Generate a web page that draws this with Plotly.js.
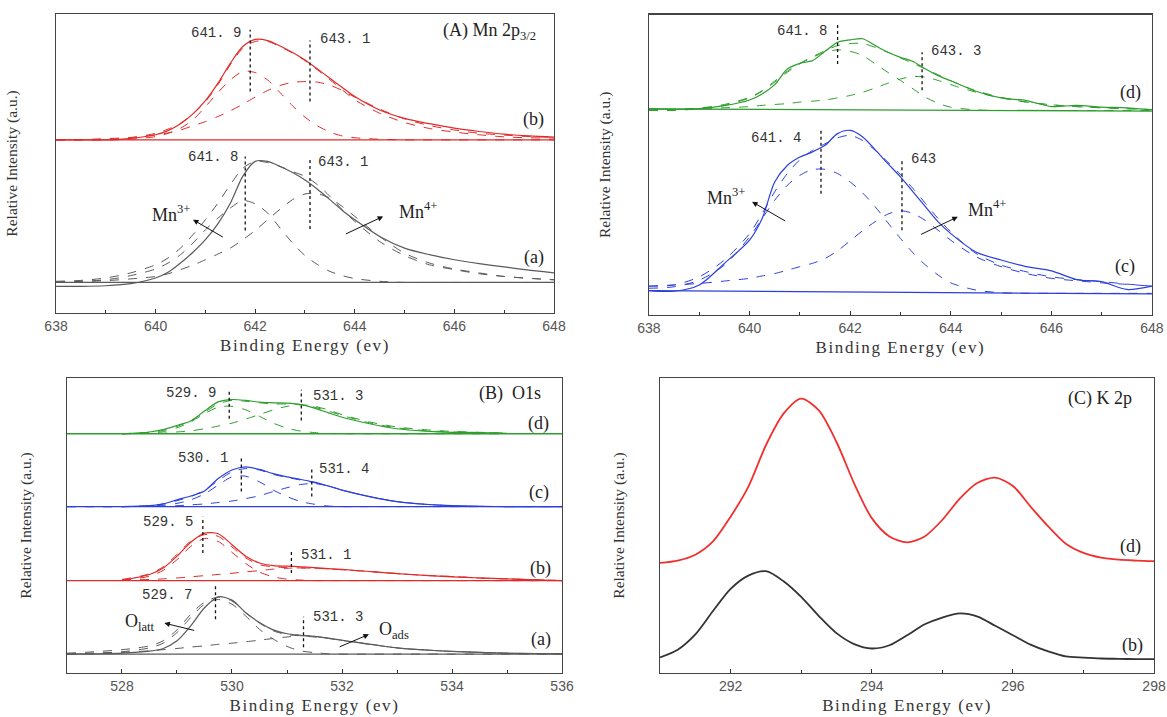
<!DOCTYPE html>
<html>
<head>
<meta charset="utf-8">
<script src="https://cdn.plot.ly/plotly-3.0.1.min.js"></script>
<style>
html,body{margin:0;padding:0;background:#fff;}
#chart{width:1167px;height:717px;}
.xtitle,.x2title,.x3title,.x4title{letter-spacing:1.6px;}
</style>
</head>
<body>
<div id="chart"></div>
<script>
// ---------- Mn 2p3/2 (binding energy grid, eV) ----------
const mnX = [638, 638.5, 639, 639.5, 640, 640.25, 640.5, 640.75, 641, 641.25, 641.5, 641.75, 642, 642.25, 642.5, 642.75, 643, 643.25, 643.5, 643.75, 644, 644.5, 645, 645.5, 646, 646.5, 647, 647.5, 648];
const mnBaseX = [638, 648];
// sample (b)
const mnB_env = [57.9,57.9,57.9,58.4,59.6,61.0,63.3,66.6,71.0,76.8,83.5,89.1,91.5,91.1,89.3,87.1,84.6,81.6,78.5,75.4,72.4,67.9,65.1,63.3,61.8,60.7,59.8,59.2,58.8];
const mnB_mn3 = [57.9,57.9,57.9,58.1,59.0,60.1,61.8,64.6,69.0,73.7,77.9,80.8,80.4,77.9,73.7,69.3,65.5,62.6,60.5,59.2,58.6,58.1,57.9,57.9,57.9,57.9,57.9,57.9,57.9];
const mnB_mn4 = [57.9,58.0,58.3,58.7,59.6,60.2,61.2,62.6,64.0,65.7,67.6,69.8,72.2,74.4,76.1,77.1,77.4,77.2,76.2,74.4,72.2,68.2,64.9,62.7,61.2,60.1,59.5,59.0,58.7];
const mnB_fit = [57.9,57.9,58.0,58.6,60.1,61.5,63.5,66.6,70.7,76.3,83.0,88.5,90.8,90.8,89.1,86.9,84.4,81.3,78.0,74.6,71.3,66.8,63.7,61.7,60.5,59.6,58.9,58.6,58.5];
const mnB_base = [57.9, 57.9];
// sample (a)
const mnA_env = [8.9,8.9,9.1,9.8,11.7,13.6,16.7,20.3,24.5,29.8,36.7,45.7,50.7,50.7,49.0,47.0,44.5,41.4,37.9,34.3,31.2,25.6,21.7,19.5,17.8,16.5,15.4,14.3,13.4];
const mnA_mn3 = [10.4,10.6,11.1,12.5,14.7,16.7,19.5,23.4,27.8,31.7,35.1,37.6,36.5,33.4,28.4,23.4,19.2,16.2,13.9,12.5,11.5,10.6,10.2,10.2,10.2,10.2,10.2,10.2,10.2];
const mnA_mn4 = [10.2,10.5,10.8,11.4,12.2,13.1,14.5,16.0,17.8,19.7,21.7,24.5,27.6,31.2,34.7,37.9,39.8,39.9,38.4,35.6,32.3,25.6,20.0,16.7,14.7,13.4,12.2,11.6,11.1];
const mnA_fit = [10.6,10.9,11.7,13.4,16.1,18.4,21.7,26.2,31.2,36.7,42.9,48.4,50.7,50.3,49.0,47.3,45.7,42.9,39.0,34.5,30.6,23.9,19.2,16.1,14.5,13.1,12.2,11.6,11.1];
const mnA_base = [10.2, 10.2];
// sample (d)
const mnD_env = [68.7,68.5,68.7,69.7,71.6,73.6,76.7,81.9,83.8,84.7,87.8,90.8,91.6,92.0,89.7,87.5,85.8,84.4,81.9,79.7,78.0,74.5,72.3,71.4,69.4,69.8,69.2,69.0,68.3];
const mnD_mn3 = [68.1,68.1,68.7,69.8,72.3,74.5,77.5,80.8,83.6,85.8,87.5,88.3,87.8,86.4,83.6,80.8,78.1,75.3,72.5,70.5,69.2,68.3,68.1,68.1,68.1,68.1,68.1,68.1,68.1];
const mnD_mn4 = [68.1,68.3,68.7,69.0,69.4,69.8,70.1,70.4,70.9,71.2,71.6,72.3,73.1,74.2,75.6,77.2,78.6,79.4,79.2,78.1,76.7,74.2,72.3,70.9,70.0,69.4,69.0,68.7,68.4];
const mnD_fit = [68.3,68.5,68.9,70.1,72.5,74.7,77.9,81.2,83.8,86.0,88.0,89.7,90.4,90.4,89.1,87.5,85.6,83.8,81.9,80.0,78.0,74.7,72.5,70.9,70.0,69.4,69.0,68.7,68.4];
const mnD_base = [68.6, 67.9];
// sample (c)
const mnC_env = [8.1,7.9,10.0,17.2,24.9,32.1,44.3,49.8,52.6,54.3,56.5,60.4,61.5,59.3,55.0,50.4,46.0,41.0,36.0,31.0,27.1,21.0,18.3,16.1,14.7,11.8,11.1,8.5,9.6];
const mnC_mn3 = [8.9,9.4,11.6,16.6,26.0,32.1,38.2,43.2,46.5,48.4,48.5,47.1,44.3,40.6,36.0,30.7,25.5,20.7,16.6,13.3,10.7,8.3,7.4,7.2,7.2,7.2,7.2,7.2,7.2];
const mnC_mn4 = [9.6,10.0,10.5,11.3,12.2,13.0,13.8,14.9,16.1,17.2,18.8,21.4,24.7,28.1,31.1,33.6,34.7,33.8,31.4,28.2,24.9,19.4,16.1,13.8,12.2,11.4,10.7,10.2,9.6];
const mnC_fit = [9.6,10.0,12.7,18.3,27.1,33.8,41.0,47.1,51.7,54.8,57.0,59.0,59.8,58.1,54.8,50.9,46.8,42.1,37.1,32.1,27.7,20.5,16.6,14.4,12.7,11.8,11.1,10.3,9.6];
const mnC_base = [8.1, 7.0];

// peak markers (position eV, [low, high])
const mnB_peaks = [641.9, 643.1];   const mnB_peakY = [[74.1, 94.7], [70.7, 91.1]];
const mnA_peaks = [641.8, 643.1];   const mnA_peakY = [[27.6, 52.3], [28.1, 51.8]];
const mnD_peaks = [641.75, 643.43]; const mnD_peakY = [[83.6, 97.5], [74.8, 87.5]];
const mnC_peaks = [641.42, 643.03]; const mnC_peakY = [[40.4, 62.0], [28.2, 51.5]];

// ---------- O 1s ----------
const oX = [527, 527.5, 528, 528.5, 528.75, 529, 529.25, 529.5, 529.75, 530, 530.25, 530.5, 530.75, 531, 531.25, 531.5, 531.75, 532, 532.5, 533, 533.5, 534, 534.5, 535, 535.5, 536];
const oBaseX = [527, 536];
const oD_env = [null,null,81.1,81.7,82.5,83.9,85.4,88.8,91.9,92.7,92.4,91.8,91.6,91.5,91.0,89.8,88.2,86.7,84.5,82.8,82.0,81.6,81.5,81.2,null,null];
const oD_c1  = [null,null,81.1,81.3,81.8,83.1,85.1,87.9,90.1,90.4,89.2,87.0,84.7,83.0,82.0,81.5,81.2,81.1,81.1,81.1,81.1,81.1,81.1,81.1,null,null];
const oD_c2  = [null,null,81.1,81.2,81.3,81.7,82.1,82.8,83.7,84.7,86.1,87.6,89.2,90.4,90.9,90.4,89.2,87.6,85.1,83.4,82.5,81.9,81.6,81.3,null,null];
const oD_fit = [null,null,81.1,81.6,82.2,83.6,85.6,88.4,91.2,92.4,92.1,91.6,91.2,91.2,91.0,90.1,88.8,87.3,84.8,83.1,82.2,81.7,81.5,81.3,null,null];
const oD_base = [81.1, 81.1];
const oC_env = [null,null,56.4,56.7,57.3,58.7,60.0,61.7,65.9,68.8,69.9,69.0,67.6,66.5,65.6,64.7,63.4,62.0,59.8,58.1,57.2,56.7,56.5,56.4,56.4,56.4];
const oC_c1  = [56.4,56.4,56.4,56.5,56.9,57.5,58.7,60.7,63.7,66.5,66.7,64.8,62.0,59.8,58.1,57.2,56.6,56.4,56.4,56.4,56.4,56.4,56.4,56.4,56.4,56.4];
const oC_c2  = [56.4,56.4,56.4,56.5,56.6,56.7,57.0,57.3,57.8,58.3,59.1,60.1,61.5,62.8,63.9,64.2,63.4,62.0,59.8,58.1,57.2,56.7,56.5,56.4,56.4,56.4];
const oC_fit = [56.4,56.4,56.4,56.7,57.3,58.4,59.8,62.0,65.2,68.2,69.3,68.8,67.3,66.3,65.4,64.5,63.4,62.0,59.8,58.1,57.2,56.7,56.5,56.4,56.4,56.4];
const oC_base = [56.4, 56.4];
const oB_env = [null,null,31.5,33.4,35.6,39.6,44.3,47.4,47.2,43.5,39.6,37.3,36.4,36.2,36.0,35.7,35.4,35.1,34.4,33.7,33.1,32.6,32.2,31.9,31.6,31.3];
const oB_c1  = [null,null,31.5,32.8,34.8,38.4,42.9,45.6,44.6,40.9,37.1,34.2,32.6,31.8,31.5,31.3,31.3,31.3,31.3,31.3,31.3,31.3,31.3,31.3,31.3,31.3];
const oB_c2  = [null,null,31.5,31.7,31.9,32.2,32.6,33.0,33.4,33.8,34.3,34.7,35.2,35.5,35.6,35.5,35.3,35.0,34.4,33.7,33.1,32.7,32.2,31.9,31.6,31.3];
const oB_fit = [null,null,31.7,33.6,36.0,40.2,44.7,46.9,46.3,42.7,39.0,36.7,36.0,35.7,35.6,35.5,35.3,35.0,34.4,33.7,33.1,32.7,32.2,31.9,31.6,31.3];
const oB_base = [31.3, 31.3];
const oA_env = [6.4,6.5,6.7,7.4,8.3,10.9,16.0,22.1,25.8,24.7,20.4,17.1,14.6,13.3,12.8,12.4,11.8,11.1,9.8,8.5,7.8,7.3,7.0,6.7,6.6,6.5];
const oA_c1  = [6.5,6.7,7.2,8.5,10.1,13.7,18.8,23.3,24.9,23.3,19.3,14.8,11.5,9.0,7.5,6.9,6.5,6.4,6.4,6.4,6.4,6.4,6.4,6.4,6.4,6.4];
const oA_c2  = [6.5,6.7,7.0,7.5,7.9,8.3,8.8,9.2,9.7,10.1,10.6,11.1,11.7,12.2,12.6,12.4,11.8,11.1,9.8,8.5,7.8,7.3,7.0,6.7,6.6,6.5];
const oA_fit = [6.7,7.2,7.9,9.2,10.9,14.6,19.9,24.0,25.7,24.4,20.4,16.9,14.3,13.0,12.6,12.2,11.7,11.0,9.7,8.5,7.8,7.3,7.0,6.7,6.6,6.5];
const oA_base = [6.4, 6.4];
const oD_peaks = [529.95, 531.26]; const oD_peakY = [[86.2, 96.3], [85.6, 96.0]];
const oC_peaks = [530.17, 531.45]; const oC_peakY = [[61.5, 73.3], [59.8, 69.9]];
const oB_peaks = [529.47, 531.08]; const oB_peakY = [[40.7, 53.0], [33.9, 41.2]];
const oA_peaks = [529.7, 531.3];   const oA_peakY = [[18.2, 29.4], [8.7, 19.1]];

// ---------- K 2p ----------
const kX = [291, 291.25, 291.5, 291.75, 292, 292.25, 292.5, 292.75, 293, 293.25, 293.5, 293.75, 294, 294.25, 294.5, 294.75, 295, 295.25, 295.5, 295.75, 296, 296.25, 296.5, 296.75, 297, 297.25, 297.5, 297.75, 298];
const kD = [37.3,38.1,40.1,44.6,53.0,63.1,77.2,87.9,93.0,89.0,78.3,64.3,52.5,46.3,44.3,46.3,51.9,59.2,64.5,66.2,63.4,56.4,49.7,43.8,40.7,39.1,38.4,38.1,37.9];
const kB = [5.3,7.9,13.1,21.0,28.5,33.0,34.5,31.1,25.8,19.3,13.5,9.8,8.3,9.4,12.8,16.5,18.8,20.2,19.1,16.0,12.8,9.6,7.3,5.6,5.2,4.9,4.8,4.7,4.7];

// ---------- colours ----------
const RED = '#e12a2a', GREY = '#5a5a5a', GREEN = '#2f9e2f', BLUE = '#2c3fdc', KRED = '#f0302e', KBLACK = '#333333';

const traces = [];
function line(x, y, ax, color, dash, width) {
  traces.push({x: x, y: y, xaxis: 'x' + ax, yaxis: 'y' + ax, type: 'scatter', mode: 'lines',
    line: {color: color, dash: dash || 'solid', width: width || 1.2, shape: 'spline', smoothing: 0.8},
    hoverinfo: 'skip', showlegend: false, connectgaps: false});
}
function spectrum(x, env, c1, c2, fit, baseX, base, ax, color) {
  line(baseX, base, ax, color, 'solid', 1.3);
  line(x, c1, ax, color, 'dash', 1);
  line(x, c2, ax, color, 'dash', 1);
  line(x, fit, ax, color, 'dash', 1);
  line(x, env, ax, color, 'solid', 1.2);
}
function markers(px, py, ax) {
  for (let i = 0; i < px.length; i++) {
    traces.push({x: [px[i], px[i]], y: py[i], xaxis: 'x' + ax, yaxis: 'y' + ax, type: 'scatter', mode: 'lines',
      line: {color: '#111', dash: 'dot', width: 1.3}, hoverinfo: 'skip', showlegend: false});
  }
}

spectrum(mnX, mnB_env, mnB_mn3, mnB_mn4, mnB_fit, mnBaseX, mnB_base, '', RED);
spectrum(mnX, mnA_env, mnA_mn3, mnA_mn4, mnA_fit, mnBaseX, mnA_base, '', GREY);
markers(mnB_peaks, mnB_peakY, ''); markers(mnA_peaks, mnA_peakY, '');
spectrum(mnX, mnD_env, mnD_mn3, mnD_mn4, mnD_fit, mnBaseX, mnD_base, '2', GREEN);
spectrum(mnX, mnC_env, mnC_mn3, mnC_mn4, mnC_fit, mnBaseX, mnC_base, '2', BLUE);
markers(mnD_peaks, mnD_peakY, '2'); markers(mnC_peaks, mnC_peakY, '2');
spectrum(oX, oD_env, oD_c1, oD_c2, oD_fit, oBaseX, oD_base, '3', GREEN);
spectrum(oX, oC_env, oC_c1, oC_c2, oC_fit, oBaseX, oC_base, '3', BLUE);
spectrum(oX, oB_env, oB_c1, oB_c2, oB_fit, oBaseX, oB_base, '3', RED);
spectrum(oX, oA_env, oA_c1, oA_c2, oA_fit, oBaseX, oA_base, '3', GREY);
markers(oD_peaks, oD_peakY, '3'); markers(oC_peaks, oC_peakY, '3');
markers(oB_peaks, oB_peakY, '3'); markers(oA_peaks, oA_peakY, '3');
line(kX, kD, '4', KRED, 'solid', 1.8);
line(kX, kB, '4', KBLACK, 'solid', 1.8);

// ---------- axes ----------
const SERIF = 'Liberation Serif, Times New Roman, serif';
function xax(range, domain, anchor) {
  return {range: range, domain: domain, anchor: anchor, showline: true, mirror: true, linecolor: '#444', linewidth: 1.4,
    ticks: 'inside', ticklen: 4, tickcolor: '#333', dtick: 2, tick0: 0, showgrid: false, zeroline: false,
    tickfont: {family: 'Liberation Sans, Arial, sans-serif', size: 14, color: '#555'},
    minor: {ticks: 'inside', dtick: 1, ticklen: 3, tickcolor: '#333', showgrid: false},
    title: {text: 'Binding Energy (ev)', font: {family: SERIF, size: 17, color: '#333'}, standoff: 6}};
}
function yax(domain, anchor, standoff) {
  return {range: [0, 100], domain: domain, anchor: anchor, showline: true, mirror: true, linecolor: '#444', linewidth: 1.4,
    ticks: '', showticklabels: false, showgrid: false, zeroline: false, fixedrange: true,
    title: {text: 'Relative Intensity (a.u.)', font: {family: SERIF, size: 15.5, color: '#333'}, standoff: standoff}};
}

const TXT = {family: SERIF, size: 18, color: '#222'};
const NUM = {family: 'Liberation Mono, DejaVu Sans Mono, monospace', size: 14, color: '#333'};
const ann = [];
function t(ax, x, y, text, font, xanchor) {
  ann.push({xref: 'x' + ax, yref: 'y' + ax, x: x, y: y, text: text, showarrow: false, font: font, xanchor: xanchor || 'center', yanchor: 'middle'});
}
function arrow(ax, x0, y0, x1, y1) {
  ann.push({xref: 'x' + ax, yref: 'y' + ax, axref: 'x' + ax, ayref: 'y' + ax, x: x1, y: y1, ax: x0, ay: y0, text: '',
    showarrow: true, arrowhead: 2, arrowsize: 1.1, arrowwidth: 1, arrowcolor: '#111'});
}
// panel A
t('', 646.7, 94.1, '(A) Mn 2p<sub>3/2</sub>', TXT);
t('', 641.75, 93.5, '641. 9', NUM, 'right'); t('', 643.27, 91.6, '643. 1', NUM, 'left');
t('', 647.58, 64.6, '(b)', TXT);
t('', 641.7, 52.3, '641. 8', NUM, 'right'); t('', 643.22, 50.4, '643. 1', NUM, 'left');
t('', 640.3, 33.4, 'Mn<sup>3+</sup>', TXT); t('', 645.27, 34.3, 'Mn<sup>4+</sup>', TXT);
t('', 647.6, 18.4, '(a)', TXT);
arrow('', 641.38, 25.1, 640.75, 31.2); arrow('', 643.79, 26.2, 644.57, 32.3);
// panel Mn c/d
t('2', 641.58, 94.5, '641. 8', NUM, 'right'); t('2', 643.56, 88.0, '643. 3', NUM, 'left');
t('2', 647.58, 74.2, '(d)', TXT);
t('2', 641.07, 59.0, '641. 4', NUM, 'right'); t('2', 643.16, 52.0, '643', NUM, 'left');
t('2', 639.54, 39.3, 'Mn<sup>3+</sup>', TXT); t('2', 644.73, 35.4, 'Mn<sup>4+</sup>', TXT);
t('2', 647.47, 16.1, '(c)', TXT);
arrow('2', 640.74, 31.0, 640.05, 37.7); arrow('2', 643.38, 26.6, 644.14, 32.7);
// panel B
t('3', 535.06, 94.8, '(B)  O1s', TXT);
t('3', 529.74, 94.8, '529. 9', NUM, 'right'); t('3', 531.43, 94.0, '531. 3', NUM, 'left');
t('3', 535.58, 84.7, '(d)', TXT);
t('3', 529.96, 73.0, '530. 1', NUM, 'right'); t('3', 531.55, 69.3, '531. 4', NUM, 'left');
t('3', 535.58, 61.1, '(c)', TXT);
t('3', 529.33, 51.3, '529. 5', NUM, 'right'); t('3', 531.21, 40.1, '531. 1', NUM, 'left');
t('3', 535.6, 35.3, '(b)', TXT);
t('3', 529.31, 26.3, '529. 7', NUM, 'right'); t('3', 531.44, 19.1, '531. 3', NUM, 'left');
t('3', 528.33, 17.1, 'O<sub>latt</sub>', TXT); t('3', 532.94, 14.3, 'O<sub>ads</sub>', TXT);
t('3', 535.62, 11.5, '(a)', TXT);
arrow('3', 529.34, 14.3, 528.77, 16.9); arrow('3', 531.93, 8.65, 532.49, 13.1);
// panel C
t('4', 297.23, 92.9, '(C) K 2p', TXT);
t('4', 297.67, 42.9, '(d)', TXT);
t('4', 297.7, 9.2, '(b)', TXT);

const layout = {
  width: 1167, height: 717, margin: {l: 0, r: 0, t: 0, b: 0},
  paper_bgcolor: '#fff', plot_bgcolor: '#fff', showlegend: false,
  xaxis: xax([638, 648], [0.048, 0.4747], 'y'),
  yaxis: yax([0.5635, 0.9805], 'x', 33),
  xaxis2: xax([638, 648], [0.5561, 0.9871], 'y2'),
  yaxis2: yax([0.5607, 0.9795], 'x2', 33),
  xaxis3: xax([527, 536], [0.0574, 0.4816], 'y3'),
  yaxis3: yax([0.0614, 0.4728], 'x3', 30),
  xaxis4: xax([291, 298], [0.5656, 0.9889], 'y4'),
  yaxis4: yax([0.0614, 0.4728], 'x4', 30),
  annotations: ann
};
Plotly.newPlot('chart', traces, layout, {staticPlot: true, displayModeBar: false});
</script>
</body>
</html>
